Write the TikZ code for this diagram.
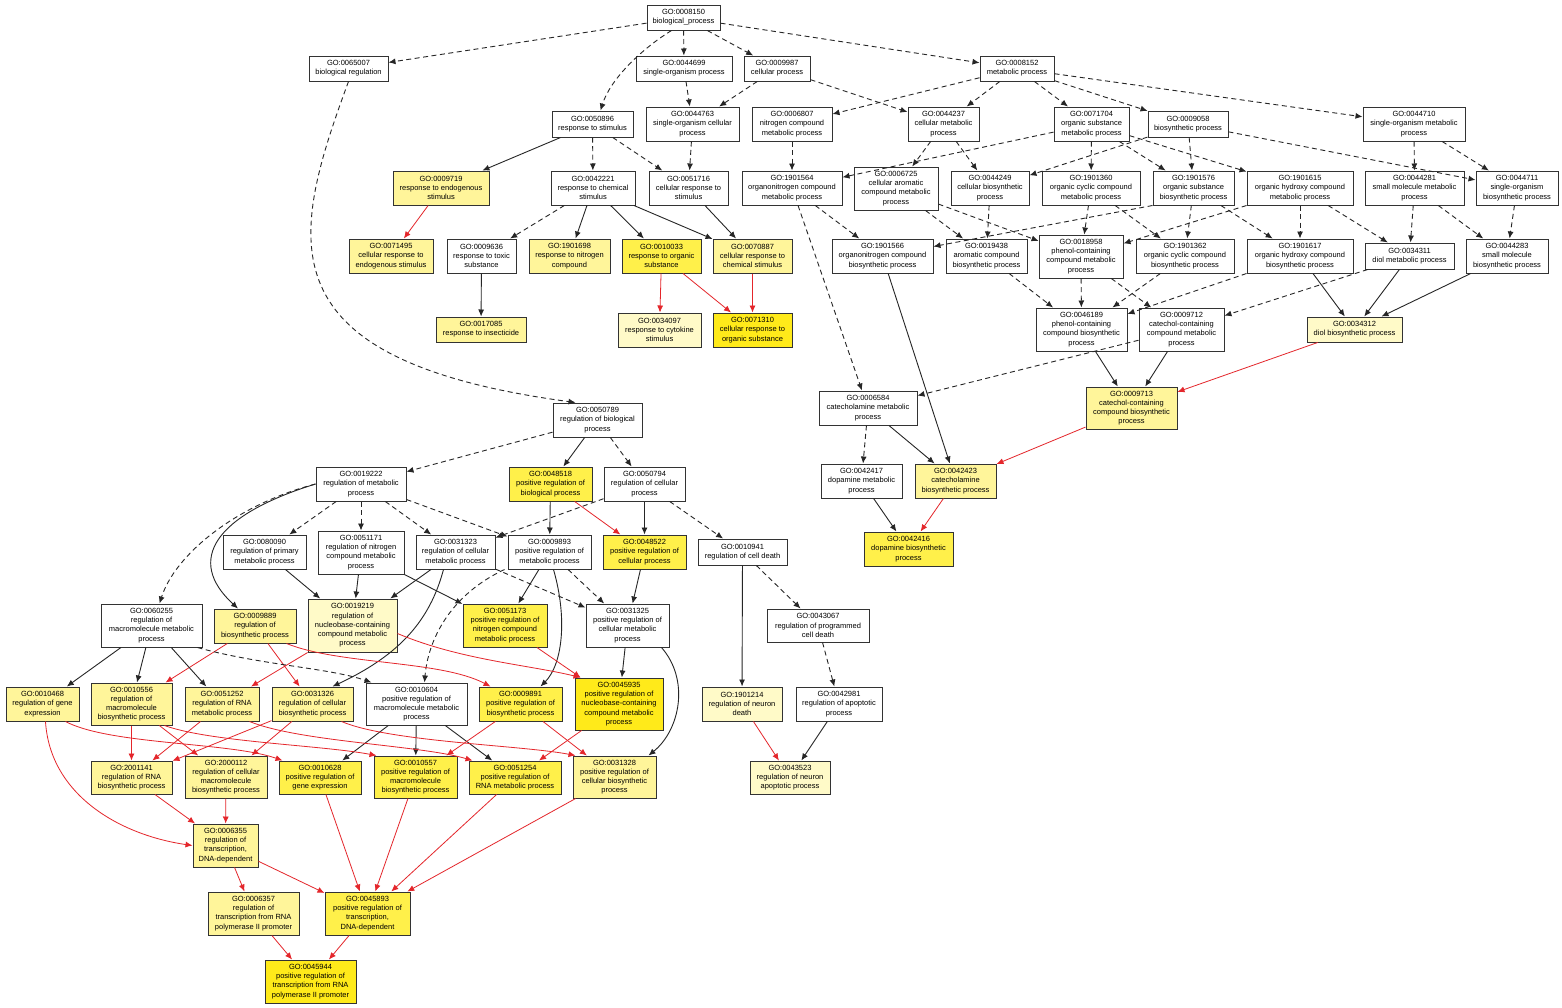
\documentclass[tikz,border=0pt]{standalone}
\usepackage{fontspec}
\setmainfont{Liberation Sans}
\usetikzlibrary{arrows.meta}
\definecolor{yl}{HTML}{FFFAC8}
\definecolor{ym}{HTML}{FFF59A}
\definecolor{ys}{HTML}{FFF04A}
\definecolor{yx}{HTML}{FFEA1A}
\definecolor{rd}{HTML}{E4262B}
\newcommand{\gn}[7]{\node[gobox,fill=#6,minimum width=#4pt,minimum height=#5pt] (g#1) at (#2,#3) {#7};}
\begin{document}
\begin{tikzpicture}[x=1pt,y=-1pt,
 gobox/.style={draw=black!80,line width=1pt,inner sep=0pt,align=center,font=\fontsize{7.5}{9.2}\selectfont,text=black},
 da/.style={draw=black!85,line width=0.9pt,dash pattern=on 5pt off 3.5pt,-{Latex[length=7pt,width=6pt]}},
 so/.style={draw=black!85,line width=0.9pt,-{Latex[length=7pt,width=6pt]}},
 re/.style={draw=rd,line width=0.8pt,-{Latex[length=7pt,width=6pt]}}]
\path[use as bounding box,fill=white] (0,0) rectangle (1562,1007);
% row 1
\gn{0008150}{683.5}{17.5}{73}{25}{white}{GO:0008150\\biological\_process}
\gn{0065007}{348.5}{68.5}{79}{25}{white}{GO:0065007\\biological regulation}
\gn{0044699}{684}{68.5}{96}{25}{white}{GO:0044699\\single-organism process}
\gn{0009987}{777}{68.5}{66}{25}{white}{GO:0009987\\cellular process}
\gn{0008152}{1017}{68.5}{74}{25}{white}{GO:0008152\\metabolic process}
% row 2
\gn{0050896}{592.5}{124}{81}{26}{white}{GO:0050896\\response to stimulus}
\gn{0044763}{692.5}{124}{93}{34}{white}{GO:0044763\\single-organism cellular\\process}
\gn{0006807}{792}{124}{80}{34}{white}{GO:0006807\\nitrogen compound\\metabolic process}
\gn{0044237}{943.5}{124}{71}{34}{white}{GO:0044237\\cellular metabolic\\process}
\gn{0071704}{1091.5}{124}{75}{34}{white}{GO:0071704\\organic substance\\metabolic process}
\gn{0009058}{1188}{124}{80}{26}{white}{GO:0009058\\biosynthetic process}
\gn{0044710}{1414}{124}{102}{34}{white}{GO:0044710\\single-organism metabolic\\process}
% row 3
\gn{0009719}{441}{188}{96}{34}{ym}{GO:0009719\\response to endogenous\\stimulus}
\gn{0042221}{593}{188}{84}{34}{white}{GO:0042221\\response to chemical\\stimulus}
\gn{0051716}{688.5}{188}{79}{34}{white}{GO:0051716\\cellular response to\\stimulus}
\gn{1901564}{792}{188}{100}{34}{white}{GO:1901564\\organonitrogen compound\\metabolic process}
\gn{0006725}{896}{188.5}{84}{43}{white}{GO:0006725\\cellular aromatic\\compound metabolic\\process}
\gn{0044249}{990}{188}{78}{34}{white}{GO:0044249\\cellular biosynthetic\\process}
\gn{1901360}{1091}{188}{98}{34}{white}{GO:1901360\\organic cyclic compound\\metabolic process}
\gn{1901576}{1193.5}{188}{81}{34}{white}{GO:1901576\\organic substance\\biosynthetic process}
\gn{1901615}{1300}{188}{106}{34}{white}{GO:1901615\\organic hydroxy compound\\metabolic process}
\gn{0044281}{1414.5}{188}{99}{34}{white}{GO:0044281\\small molecule metabolic\\process}
\gn{0044711}{1517}{188}{82}{34}{white}{GO:0044711\\single-organism\\biosynthetic process}
% row 4
\gn{0071495}{391}{256}{84}{34}{ym}{GO:0071495\\cellular response to\\endogenous stimulus}
\gn{0009636}{481.5}{256}{69}{34}{white}{GO:0009636\\response to toxic\\substance}
\gn{1901698}{569.5}{256}{81}{34}{ym}{GO:1901698\\response to nitrogen\\compound}
\gn{0010033}{661.5}{256}{79}{34}{ys}{GO:0010033\\response to organic\\substance}
\gn{0070887}{752.5}{256}{79}{34}{ym}{GO:0070887\\cellular response to\\chemical stimulus}
\gn{1901566}{882.5}{256}{101}{34}{white}{GO:1901566\\organonitrogen compound\\biosynthetic process}
\gn{0019438}{986.5}{256}{81}{34}{white}{GO:0019438\\aromatic compound\\biosynthetic process}
\gn{0018958}{1081}{256.5}{84}{43}{white}{GO:0018958\\phenol-containing\\compound metabolic\\process}
\gn{1901362}{1185}{256}{98}{34}{white}{GO:1901362\\organic cyclic compound\\biosynthetic process}
\gn{1901617}{1300}{256}{106}{34}{white}{GO:1901617\\organic hydroxy compound\\biosynthetic process}
\gn{0034311}{1409.5}{256}{89}{26}{white}{GO:0034311\\diol metabolic process}
\gn{0044283}{1507}{256}{82}{34}{white}{GO:0044283\\small molecule\\biosynthetic process}
% row 5
\gn{0017085}{481}{329.5}{90}{25}{ym}{GO:0017085\\response to insecticide}
\gn{0034097}{659.5}{330}{83}{34}{yl}{GO:0034097\\response to cytokine\\stimulus}
\gn{0071310}{752.5}{330}{79}{34}{yx}{GO:0071310\\cellular response to\\organic substance}
\gn{0046189}{1081.5}{329.5}{91}{43}{white}{GO:0046189\\phenol-containing\\compound biosynthetic\\process}
\gn{0009712}{1181.5}{329.5}{85}{43}{white}{GO:0009712\\catechol-containing\\compound metabolic\\process}
\gn{0034312}{1354.5}{329.5}{95}{25}{yl}{GO:0034312\\diol biosynthetic process}
% row 6
\gn{0050789}{597.5}{420}{89}{34}{white}{GO:0050789\\regulation of biological\\process}
\gn{0006584}{868}{408}{98}{34}{white}{GO:0006584\\catecholamine metabolic\\process}
\gn{0009713}{1131.5}{408}{91}{42}{ym}{GO:0009713\\catechol-containing\\compound biosynthetic\\process}
% row 7
\gn{0019222}{361}{484}{90}{34}{white}{GO:0019222\\regulation of metabolic\\process}
\gn{0048518}{550.5}{484}{83}{34}{ys}{GO:0048518\\positive regulation of\\biological process}
\gn{0050794}{644.5}{484}{81}{34}{white}{GO:0050794\\regulation of cellular\\process}
\gn{0042417}{861.5}{481}{81}{34}{white}{GO:0042417\\dopamine metabolic\\process}
\gn{0042423}{955.5}{481}{81}{34}{ym}{GO:0042423\\catecholamine\\biosynthetic process}
% row 8
\gn{0080090}{264.5}{552}{83}{34}{white}{GO:0080090\\regulation of primary\\metabolic process}
\gn{0051171}{361}{552.5}{86}{43}{white}{GO:0051171\\regulation of nitrogen\\compound metabolic\\process}
\gn{0031323}{455.5}{552}{79}{34}{white}{GO:0031323\\regulation of cellular\\metabolic process}
\gn{0009893}{549.5}{552}{83}{34}{white}{GO:0009893\\positive regulation of\\metabolic process}
\gn{0048522}{644.5}{552}{83}{34}{ys}{GO:0048522\\positive regulation of\\cellular process}
\gn{0010941}{742.5}{552}{89}{26}{white}{GO:0010941\\regulation of cell death}
\gn{0042416}{908.5}{549}{89}{34}{ys}{GO:0042416\\dopamine biosynthetic\\process}
% row 9
\gn{0060255}{151.5}{625.5}{101}{43}{white}{GO:0060255\\regulation of\\macromolecule metabolic\\process}
\gn{0009889}{255}{626}{82}{34}{ym}{GO:0009889\\regulation of\\biosynthetic process}
\gn{0019219}{352.5}{625.5}{89}{53}{yl}{GO:0019219\\regulation of\\nucleobase-containing\\compound metabolic\\process}
\gn{0051173}{505}{625.5}{84}{43}{ys}{GO:0051173\\positive regulation of\\nitrogen compound\\metabolic process}
\gn{0031325}{627.5}{625.5}{83}{43}{white}{GO:0031325\\positive regulation of\\cellular metabolic\\process}
\gn{0043067}{818}{625.5}{102}{33}{white}{GO:0043067\\regulation of programmed\\cell death}
% row 10
\gn{0010468}{42.5}{704}{73}{34}{ym}{GO:0010468\\regulation of gene\\expression}
\gn{0010556}{131.5}{704}{81}{42}{ym}{GO:0010556\\regulation of\\macromolecule\\biosynthetic process}
\gn{0051252}{222}{704}{74}{34}{ym}{GO:0051252\\regulation of RNA\\metabolic process}
\gn{0031326}{312.5}{704}{81}{34}{ym}{GO:0031326\\regulation of cellular\\biosynthetic process}
\gn{0010604}{416.5}{704}{101}{42}{white}{GO:0010604\\positive regulation of\\macromolecule metabolic\\process}
\gn{0009891}{520.5}{704}{83}{34}{ys}{GO:0009891\\positive regulation of\\biosynthetic process}
\gn{0045935}{619}{704}{88}{52}{yx}{GO:0045935\\positive regulation of\\nucleobase-containing\\compound metabolic\\process}
\gn{1901214}{742}{704}{80}{34}{yl}{GO:1901214\\regulation of neuron\\death}
\gn{0042981}{839}{704}{86}{34}{white}{GO:0042981\\regulation of apoptotic\\process}
% row 11
\gn{2001141}{131.5}{777.5}{81}{33}{ym}{GO:2001141\\regulation of RNA\\biosynthetic process}
\gn{2000112}{226}{777}{82}{42}{ym}{GO:2000112\\regulation of cellular\\macromolecule\\biosynthetic process}
\gn{0010628}{320}{777.5}{82}{33}{ys}{GO:0010628\\positive regulation of\\gene expression}
\gn{0010557}{415.5}{777}{83}{42}{ys}{GO:0010557\\positive regulation of\\macromolecule\\biosynthetic process}
\gn{0051254}{515}{777.5}{92}{33}{ys}{GO:0051254\\positive regulation of\\RNA metabolic process}
\gn{0031328}{614.5}{777}{83}{42}{ym}{GO:0031328\\positive regulation of\\cellular biosynthetic\\process}
\gn{0043523}{790}{777.5}{80}{33}{yl}{GO:0043523\\regulation of neuron\\apoptotic process}
% rows 12-14
\gn{0006355}{225.5}{845.5}{65}{43}{ym}{GO:0006355\\regulation of\\transcription,\\DNA-dependent}
\gn{0006357}{253.5}{913.5}{91}{43}{ym}{GO:0006357\\regulation of\\transcription from RNA\\polymerase II promoter}
\gn{0045893}{367.5}{913.5}{85}{43}{ys}{GO:0045893\\positive regulation of\\transcription,\\DNA-dependent}
\gn{0045944}{310.5}{981.5}{91}{43}{yx}{GO:0045944\\positive regulation of\\transcription from RNA\\polymerase II promoter}

% ---------- edges top ----------
\draw[da] (g0008150) -- (g0065007);
\draw[da] ([xshift=-12pt]g0008150.south) .. controls (640,50) and (610,80) .. ([xshift=8pt]g0050896.north);
\draw[da] (g0008150) -- (g0044699);
\draw[da] (g0008150) -- (g0009987);
\draw[da] (g0008150) -- (g0008152);
\draw[da] (g0065007.south) .. controls (290,240) and (260,360) .. ([xshift=-22pt]g0050789.north);
\draw[da] (g0044699) -- (g0044763);
\draw[da] (g0009987) -- (g0044763);
\draw[da] (g0009987) -- (g0044237);
\draw[da] (g0008152) -- (g0006807);
\draw[da] (g0008152) -- (g0044237);
\draw[da] (g0008152) -- (g0071704);
\draw[da] (g0008152) -- (g0009058);
\draw[da] (g0008152) -- (g0044710);
\draw[so] (g0050896) -- (g0009719);
\draw[da] (g0050896) -- (g0042221);
\draw[da] (g0050896) -- (g0051716);
\draw[da] (g0044763) -- (g0051716);
\draw[da] (g0006807) -- (g1901564);
\draw[da] (g0071704) -- (g1901564);
\draw[da] (g0044237) -- (g0006725);
\draw[da] (g0044237) -- (g0044249);
\draw[da] (g0071704) -- (g1901360);
\draw[da] (g0071704) -- (g1901576);
\draw[da] (g0071704) -- (g1901615);
\draw[da] (g0009058) -- (g0044249);
\draw[da] (g0009058) -- (g1901576);
\draw[da] (g0009058) -- (g0044711);
\draw[da] (g0044710) -- (g0044281);
\draw[da] (g0044710) -- (g0044711);
% row 3 -> 4
\draw[re] (g0009719) -- (g0071495);
\draw[da] (g0042221) -- (g0009636);
\draw[so] (g0042221) -- (g1901698);
\draw[so] (g0042221) -- (g0010033);
\draw[so] (g0042221) -- (g0070887);
\draw[so] (g0051716) -- (g0070887);
\draw[da] (g1901564) -- (g1901566);
\draw[da] (g1901564) -- (g0006584);
\draw[da] (g0006725) -- (g0019438);
\draw[da] (g0006725) -- (g0018958);
\draw[da] (g0044249) -- (g0019438);
\draw[da] (g1901576.south west) -- (g1901566);
\draw[da] (g1901360) -- (g0018958);
\draw[da] (g1901360) -- (g1901362);
\draw[da] (g1901615.south west) -- (g0018958);
\draw[da] (g1901576) -- (g1901362);
\draw[da] (g1901576) -- (g1901617);
\draw[da] (g1901615) -- (g1901617);
\draw[da] (g1901615) -- (g0034311);
\draw[da] (g0044281) -- (g0034311);
\draw[da] (g0044281) -- (g0044283);
\draw[da] (g0044711) -- (g0044283);
% row 4 -> 5
\draw[so] (g0009636) -- (g0017085);
\draw[re] (g0010033) -- (g0034097);
\draw[re] (g0010033) -- (g0071310);
\draw[re] (g0070887) -- (g0071310);
\draw[so] (g1901566) -- (g0042423);
\draw[da] (g0019438) -- (g0046189);
\draw[da] (g0018958) -- (g0046189);
\draw[da] (g0018958) -- (g0009712);
\draw[da] (g1901362) -- (g0046189);
\draw[da] (g1901617.south west) -- (g0046189);
\draw[so] (g1901617) -- (g0034312);
\draw[da] (g0034311) -- (g0009712);
\draw[so] (g0034311) -- (g0034312);
\draw[so] (g0044283) -- (g0034312);
% row 5 -> 7
\draw[so] (g0046189) -- (g0009713);
\draw[so] (g0009712) -- (g0009713);
\draw[da] (g0009712) -- (g0006584);
\draw[re] (g0034312) -- (g0009713);
\draw[da] (g0006584) -- (g0042417);
\draw[so] (g0006584) -- (g0042423);
\draw[re] (g0009713) -- (g0042423);
\draw[so] (g0042417) -- (g0042416);
\draw[re] (g0042423) -- (g0042416);
% regulation block
\draw[da] (g0050789) -- (g0019222);
\draw[so] (g0050789) -- (g0048518);
\draw[da] (g0050789) -- (g0050794);
\draw[da] (g0019222.west) .. controls (235,505) and (175,555) .. ([xshift=8pt]g0060255.north);
\draw[so] (g0019222.west) .. controls (215,515) and (185,560) .. ([xshift=-17pt]g0009889.north);
\draw[da] (g0019222) -- (g0080090);
\draw[da] (g0019222) -- (g0051171);
\draw[da] (g0019222) -- (g0031323);
\draw[da] ([yshift=2pt]g0019222.south east) -- (g0009893);
\draw[so] (g0048518) -- (g0009893);
\draw[re] (g0048518) -- (g0048522);
\draw[so] (g0050794) -- (g0048522);
\draw[da] (g0050794) -- (g0010941);
\draw[da] (g0050794) -- (g0031323);
\draw[so] (g0080090) -- (g0019219);
\draw[so] (g0051171) -- (g0019219);
\draw[so] (g0031323) -- (g0019219);
\draw[so] (g0051171) -- (g0051173);
\draw[so] ([xshift=-12pt]g0031323.south) .. controls (430,620) and (400,655) .. ([xshift=20pt]g0031326.north);
\draw[so] (g0009893) -- (g0051173);
\draw[da] (g0009893) -- (g0031325);
\draw[da] ([xshift=-45pt]g0009893.south) .. controls (450,595) and (428,640) .. ([xshift=8pt]g0010604.north);
\draw[so] ([xshift=4pt]g0009893.south) .. controls (568,620) and (562,665) .. ([xshift=20pt]g0009891.north);
\draw[da] (g0031323) -- (g0031325);
\draw[so] (g0048522) -- (g0031325);
\draw[so] (g0010941) -- (g1901214);
\draw[da] (g0010941) -- (g0043067);
\draw[da] (g0043067) -- (g0042981);
\draw[re] (g1901214) -- (g0043523);
\draw[so] (g0042981) -- (g0043523);
\draw[so] (g0031325) -- (g0045935);
\draw[so] ([xshift=-8pt]g0031325.south east) .. controls (690,680) and (680,730) .. ([xshift=-8pt]g0031328.north east);
\draw[re] (g0051173) -- (g0045935);
\draw[re] ([yshift=-8pt]g0019219.east) .. controls (460,660) and (530,665) .. ([xshift=6pt]g0045935.north west);
\draw[re] ([xshift=-10pt]g0009889.south east) .. controls (340,665) and (440,660) .. ([xshift=12pt]g0009891.north west);
\draw[re] (g0009889) -- (g0010556);
\draw[re] (g0009889) -- (g0031326);
\draw[re] (g0019219) -- (g0051252);
\draw[so] (g0060255) -- (g0010468);
\draw[so] (g0060255) -- (g0010556);
\draw[so] (g0060255) -- (g0051252);
\draw[da] ([xshift=-5pt]g0060255.south east) .. controls (260,665) and (330,668) .. ([xshift=6pt]g0010604.north west);
% row 10 -> 11
\draw[re] (g0010556) -- (g2001141);
\draw[re] (g0010556) -- (g2000112);
\draw[re] (g0051252) -- (g2001141);
\draw[re] (g0031326) -- (g2001141);
\draw[re] (g0031326) -- (g2000112);
\draw[so] (g0010604) -- (g0010628);
\draw[so] (g0010604) -- (g0010557);
\draw[so] (g0010604) -- (g0051254);
\draw[re] (g0009891) -- (g0010557);
\draw[re] (g0009891) -- (g0031328);
\draw[re] (g0045935) -- (g0051254);
\draw[re] ([xshift=-14pt]g0010468.south east) .. controls (110,745) and (230,742) .. ([xshift=4pt]g0010628.north west);
\draw[re] ([xshift=-8pt]g0010556.south east) .. controls (210,742) and (320,745) .. ([xshift=3pt]g0010557.north west);
\draw[re] ([xshift=-10pt]g0051252.south east) .. controls (300,742) and (420,745) .. ([xshift=4pt]g0051254.north west);
\draw[re] ([xshift=-12pt]g0031326.south east) .. controls (390,742) and (520,745) .. ([xshift=3pt]g0031328.north west);
% row 11 -> 14
\draw[re] ([xshift=3pt]g0010468.south) .. controls (50,795) and (120,835) .. (g0006355.west);
\draw[re] (g2001141) -- (g0006355);
\draw[re] (g2000112) -- (g0006355);
\draw[re] (g0006355) -- (g0006357);
\draw[re] (g0006355) -- (g0045893);
\draw[re] (g0010628) -- (g0045893);
\draw[re] (g0010557) -- (g0045893);
\draw[re] (g0051254) -- (g0045893);
\draw[re] (g0031328) -- (g0045893);
\draw[re] (g0006357) -- (g0045944);
\draw[re] (g0045893) -- (g0045944);
\end{tikzpicture}
\end{document}
